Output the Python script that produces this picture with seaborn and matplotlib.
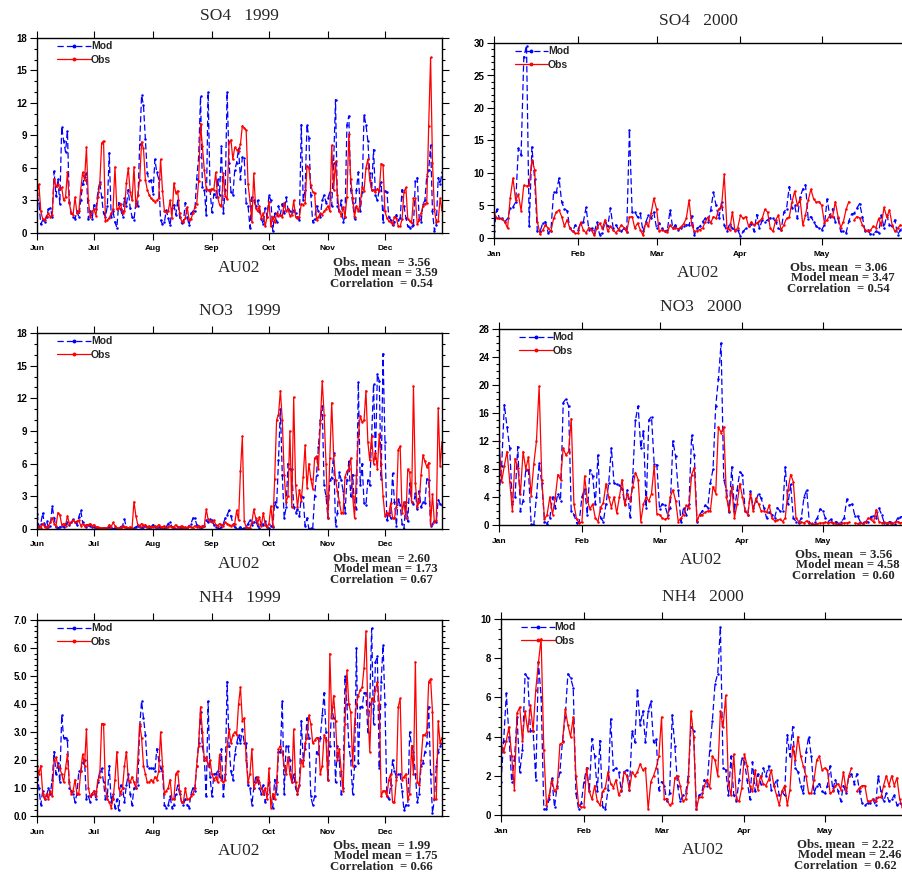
import numpy as np
import pandas as pd
import matplotlib
matplotlib.use("Agg")
import matplotlib.pyplot as plt
import matplotlib.dates as mdates
from matplotlib.lines import Line2D
from matplotlib.ticker import MultipleLocator, FormatStrFormatter, NullLocator
import seaborn as sns

nan = np.nan

# ---- daily values, 1999-06-01 .. 1999-12-31 ----
so4_1999_obs = [
    3.7, 4.5, 2.0, 1.3, 1.2, 1.6, 1.8, 1.5, 1.7, 5.0, 4.3, 4.5, 4.1, 4.2, 3.0, 3.3, 5.6, 2.8, 1.8, 1.7,
    3.3, 1.8, 2.0, 4.0, 5.6, 4.9, 7.9, 3.0, 1.5, 2.0,
    2.2, 1.6, 3.3, 4.5, 8.3, 8.5, 1.1, 1.2, 1.4, 1.8, 2.2, 6.1, 2.2, 2.3, 2.7, 1.8, 2.0, 4.6, 6.0, 3.8,
    3.0, 6.1, 2.5, 3.5, 4.9, 8.4, 7.8, 4.9, 4.0, 3.5, 3.2,
    3.0, 2.9, 3.0, 3.2, 6.8, 3.9, 2.0, 1.9, 2.0, 3.0, 1.4, 4.6, 3.7, 3.9, 1.8, 1.1, 1.0, 1.4, 2.4, 1.2,
    1.3, 1.8, 2.4, 2.7, 4.8, 10.1, 8.0, 5.8, 4.1, 4.0, 3.9,
    4.1, 4.0, 5.6, 3.3, 2.6, 2.5, 5.5, 3.4, 3.1, 8.4, 8.6, 6.8, 7.9, 7.7, 7.6, 8.2, 9.9, 9.7, 9.5, 4.5,
    3.0, 1.0, 5.5, 2.3, 2.0, 2.5, 1.4, 1.8, 0.6, 1.5,
    2.9, 0.6, 1.5, 1.0, 1.8, 1.6, 1.7, 1.5, 2.8, 2.0, 2.2, 1.6, 1.7, 3.0, 1.5, 1.4, 1.5, 2.7, 2.6, 2.8,
    6.2, 6.0, 4.4, 3.8, 3.7, 1.2, 1.5, 1.8, 1.7, 2.0, 2.2,
    2.5, 2.0, 8.1, 4.0, 6.6, 3.5, 2.0, 1.6, 2.4, 1.5, 3.3, 9.1, 5.0, 3.2, 1.5, 2.5, 2.0, 2.8, 4.2, 3.9,
    6.0, 6.8, 4.9, 4.0, 4.0, 3.8, 4.1, 3.9, 6.4, 6.3,
    2.0, 1.4, 1.1, 1.0, 0.8, 1.5, 1.4, 0.6, 0.6, 1.3, 3.8, 4.2, 1.3, 1.1, 0.9, 3.2, 3.2, 0.8, 1.2, 1.8,
    2.5, 2.7, 2.8, 9.9, 16.2, 6.5, 2.2, 1.0, 1.1, 3.2, 2.1,
]
so4_1999_mod = [
    3.5, 2.8, 0.8, 1.2, 1.0, 1.5, 2.2, 2.3, 1.5, 5.7, 3.4, 5.0, 2.7, 9.8, 8.5, 7.5, 9.4, 2.9, 1.8, 1.5,
    1.3, 2.0, 1.5, 3.0, 4.5, 5.2, 5.5, 1.3, 2.0, 1.3,
    2.6, 2.2, 3.8, 4.7, 3.3, 1.8, 1.5, 2.5, 7.4, 1.5, 2.0, 1.0, 0.5, 2.8, 2.2, 1.5, 3.2, 2.5, 4.0, 2.3,
    1.5, 1.2, 2.8, 2.5, 8.2, 12.7, 11.8, 8.7, 5.5, 4.8, 4.9,
    3.6, 6.8, 5.6, 5.0, 1.2, 0.8, 1.0, 2.1, 1.4, 0.7, 2.3, 2.6, 1.7, 3.0, 1.5, 0.9, 1.0, 2.8, 1.5, 0.7,
    1.8, 2.0, 2.0, 5.0, 7.0, 12.6, 4.2, 4.0, 1.7, 13.0, 4.0,
    1.9, 3.6, 3.3, 5.0, 3.5, 8.0, 1.8, 4.0, 13.0, 6.5, 3.8, 3.5, 5.8, 6.5, 7.8, 5.0, 7.0, 6.9, 2.8, 2.5,
    0.5, 3.3, 3.0, 2.5, 3.0, 2.0, 1.3, 0.8, 2.3, 1.5,
    3.5, 3.0, 0.2, 1.8, 1.0, 2.5, 1.7, 2.7, 1.8, 3.3, 2.2, 2.0, 1.9, 2.1, 1.8, 1.5, 1.2, 10.0, 3.0, 4.0,
    10.0, 8.8, 3.5, 1.0, 1.3, 2.5, 2.0, 1.5, 3.0, 3.5, 2.8,
    3.2, 3.8, 2.5, 6.5, 12.3, 2.5, 2.0, 3.0, 1.0, 1.5, 10.0, 10.8, 4.0, 2.8, 1.3, 4.0, 5.6, 2.0, 3.8, 10.9,
    10.0, 8.5, 5.5, 4.0, 7.7, 3.5, 3.0, 4.0, 4.7, 1.0,
    3.9, 3.8, 1.5, 1.2, 0.7, 1.0, 1.7, 1.2, 1.4, 4.0, 2.5, 1.4, 0.6, 0.5, 0.6, 0.7, 4.8, 5.1, 1.3, 1.0,
    2.7, 3.0, 5.3, 5.8, 8.1, 2.0, 0.2, 0.7, 5.1, 4.5, 5.6,
]
no3_1999_obs = [
    0.1, 0.3, 0.1, 0.5, 0.2, 0.1, 0.3, 0.6, 1.0, 0.5, 0.3, 1.5, 1.3, 0.4, 0.5, 0.3, 1.2, 0.5, 0.6, 0.8,
    0.6, 0.7, 0.8, 0.3, 0.5, 0.3, 0.4, 0.4, 0.5, 0.3,
    0.4, 0.2, 0.2, 0.1, 0.1, 0.1, 0.1, 0.1, 0.4, 0.2, 0.6, 0.3, 0.1, 0.1, 0.1, 0.3, 0.2, 0.2, 0.1, 0.2,
    0.1, 2.5, 1.2, 0.4, 0.3, 0.5, 0.3, 0.4, 0.2, 0.3, 0.2,
    0.2, 0.3, 0.2, 0.4, 0.2, 0.2, 0.3, 0.1, 0.2, 0.3, 0.2, 0.2, 0.4, 0.1, 0.2, 0.3, 0.1, 0.2, 0.1, 0.3,
    0.2, 0.1, 0.3, 0.2, 0.3, 0.2, 0.3, 0.3, 1.8, 0.9, 0.7,
    0.6, 0.8, 0.4, 0.3, 0.5, 0.4, 0.3, 0.6, 0.5, 0.4, 0.3, 0.4, 0.5, 1.7, 0.8, 5.3, 8.5, 0.7, 0.2, 0.1,
    0.1, 0.6, 1.8, 1.0, 0.5, 1.1, 0.3, 1.5, 0.4, 0.2,
    0.5, 2.1, 0.3, 4.6, 10.0, 10.5, 12.7, 10.0, 5.0, 2.5, 3.0, 9.0, 2.0, 12.1, 4.0, 2.0, 3.6, 2.6, 4.8, 7.7,
    3.8, 6.0, 4.6, 3.7, 6.5, 6.7, 5.5, 9.7, 13.6, 10.5, 6.0,
    1.0, 6.5, 11.6, 6.8, 4.5, 3.5, 2.5, 1.5, 1.5, 4.8, 5.3, 5.5, 6.5, 3.0, 1.0, 5.0, 8.5, 10.4, 9.8, 10.0,
    12.7, 8.0, 6.3, 8.5, 6.0, 7.0, 5.5, 8.7, 6.0, 3.0,
    1.2, 1.5, 1.3, 2.4, 1.0, 1.0, 2.0, 7.3, 7.6, 1.5, 2.5, 1.0, 5.5, 5.2, 2.5, 13.1, 4.2, 2.0, 2.5, 5.0,
    6.8, 6.2, 5.7, 6.1, 0.4, 3.2, 0.6, 0.8, 11.1, 5.8, 8.0,
]
no3_1999_mod = [
    1.4, 0.2, 0.5, 1.5, 0.3, 0.7, 0.2, 0.3, 2.1, 1.0, 0.2, 0.1, 0.2, 0.3, 0.2, 0.5, 0.6, 0.4, 0.6, 0.9,
    0.6, 0.4, 1.1, 1.7, 0.6, 0.3, 0.2, 0.4, 0.3, 0.2,
    0.2, 0.1, 0.0, 0.1, 0.0, 0.1, 0.0, 0.1, 0.2, 0.1, 0.0, 0.1, 0.0, 0.1, 0.2, 0.3, 0.9, 0.1, 0.0, 0.1,
    0.0, 0.1, 0.2, 0.3, 0.2, 0.1, 0.2, 0.3, 0.2, 0.1, 0.2,
    0.4, 0.2, 0.1, 0.2, 0.1, 0.0, 0.1, 0.2, 0.5, 0.6, 0.2, 0.1, 0.0, 0.2, 0.1, 0.1, 0.2, 0.0, 0.1, 0.3,
    0.5, 1.0, 1.0, 0.4, 0.2, 0.1, 0.2, 0.3, 0.8, 0.6, 0.9,
    0.8, 0.4, 0.2, 0.1, 0.0, 0.2, 0.5, 1.0, 1.3, 1.7, 1.2, 0.5, 0.2, 0.0, 0.1, 0.2, 0.0, 0.1, 0.2, 0.5,
    0.8, 0.4, 0.6, 0.8, 0.3, 0.1, 0.5, 0.4, 0.7, 0.2,
    0.1, 0.3, 0.2, 2.5, 2.0, 6.3, 11.0, 5.0, 1.0, 2.0, 6.0, 5.5, 5.5, 2.0, 1.5, 1.8, 1.2, 3.0, 2.9, 0.3,
    1.0, 0.0, 0.1, 0.0, 3.0, 5.0, 7.5, 10.0, 11.3, 4.0, 3.0,
    1.0, 4.5, 4.7, 7.0, 0.3, 1.5, 5.2, 4.5, 3.5, 1.5, 4.5, 6.2, 3.0, 5.0, 2.0, 1.8, 13.5, 4.0, 6.0, 2.4,
    2.2, 4.5, 4.0, 8.5, 13.3, 6.5, 14.2, 13.6, 4.6, 16.1,
    8.0, 0.8, 1.5, 1.0, 5.1, 2.5, 0.3, 2.8, 2.2, 0.5, 0.0, 2.5, 0.7, 4.2, 2.5, 2.3, 3.3, 1.8, 3.5, 2.0,
    2.5, 2.4, 4.6, 4.5, 0.3, 0.5, 0.7, 0.6, 2.7, 2.3, 2.2,
]
nh4_1999_obs = [
    1.8, 1.5, 1.8, 0.8, 0.6, 0.8, 0.6, 0.9, 0.7, 2.0, 2.1, 1.8, 1.7, 1.5, 1.2, 1.7, 2.2, 1.2, 0.8, 0.9,
    1.3, 0.8, 0.8, 1.6, 2.2, 1.8, 3.1, 1.0, 0.7, 0.8,
    0.9, 0.7, 1.3, 1.4, 3.3, 3.3, 1.0, 0.6, 0.5, 0.3, 0.6, 1.3, 2.3, 1.0, 0.8, 1.0, 1.8, 2.3, 1.3, 1.2,
    1.4, 1.2, 1.0, 2.0, 3.3, 2.8, 1.8, 1.5, 1.2, 1.2, 1.3,
    1.2, 1.4, 1.3, 1.6, 3.0, 1.8, 0.8, 0.9, 1.0, 1.3, 0.6, 0.6, 1.5, 1.6, 0.9, 0.5, 0.5, 1.0, 0.6, 0.6,
    0.7, 0.8, 1.0, 1.8, 2.5, 3.9, 3.0, 2.0, 2.1, 1.8, 2.0,
    1.5, 1.3, 1.4, 1.2, 2.2, 1.3, 1.2, 1.3, 2.5, 3.1, 2.6, 2.9, 3.0, 2.9, 4.0, 4.6, 3.4, 3.5, 2.0, 1.2,
    1.5, 2.4, 1.0, 1.2, 1.4, 1.2, 1.0, 0.8, 1.0, 0.6,
    1.7, 0.3, 0.8, 0.6, 1.2, 2.4, 2.5, 2.3, 1.8, 1.5, 2.1, 1.5, 1.2, 3.1, 1.2, 0.8, 1.1, 2.0, 1.8, 2.6,
    2.8, 3.6, 3.3, 2.6, 2.7, 2.8, 2.8, 1.5, 1.8, 2.9, 2.7,
    1.3, 5.8, 3.5, 4.3, 3.4, 2.0, 2.4, 1.6, 0.9, 3.3, 5.2, 4.0, 3.7, 1.8, 3.3, 4.0, 4.3, 4.5, 4.6, 5.3,
    6.6, 3.8, 2.3, 4.2, 4.1, 4.5, 4.8, 4.0, 0.7, 0.9,
    0.9, 0.7, 1.3, 1.5, 0.5, 0.5, 1.3, 3.9, 4.2, 1.3, 1.4, 1.5, 0.6, 0.8, 2.5, 1.5, 5.5, 1.2, 1.1, 2.0,
    2.9, 2.9, 3.0, 4.8, 4.9, 3.7, 0.6, 0.6, 3.4, 2.6, 2.8,
]
nh4_1999_mod = [
    1.8, 1.0, 0.4, 0.9, 0.6, 0.7, 1.0, 0.8, 1.3, 2.3, 1.5, 1.9, 1.2, 3.6, 2.8, 2.8, 2.7, 1.0, 0.9, 0.8,
    0.5, 0.8, 1.6, 1.6, 1.9, 2.0, 0.6, 0.7, 0.5, 0.8,
    0.9, 0.6, 1.2, 1.6, 1.7, 1.2, 0.6, 0.7, 1.8, 0.5, 0.8, 0.3, 0.6, 0.2, 1.1, 1.0, 0.5, 1.1, 1.5, 0.8,
    0.4, 1.0, 1.0, 1.1, 3.2, 4.1, 3.5, 2.9, 1.8, 1.7, 1.7,
    1.7, 1.6, 2.4, 2.0, 1.7, 1.6, 0.4, 0.3, 0.4, 0.7, 0.3, 0.4, 0.8, 1.1, 0.8, 0.5, 0.4, 0.6, 0.4, 0.3,
    0.8, 1.0, 0.9, 1.8, 2.6, 3.7, 2.5, 2.0, 0.7, 4.1, 1.4,
    0.7, 1.5, 1.5, 1.6, 1.4, 2.4, 0.7, 1.5, 4.8, 2.5, 1.6, 1.3, 2.2, 2.6, 2.9, 2.6, 3.1, 2.6, 2.6, 1.1,
    1.0, 0.4, 1.0, 1.4, 1.3, 1.0, 0.8, 1.1, 0.5, 0.8,
    1.2, 0.5, 0.3, 1.3, 0.8, 2.3, 2.3, 4.1, 0.8, 2.5, 2.5, 2.0, 1.2, 1.5, 1.0, 0.8, 1.1, 3.4, 2.0, 2.4,
    3.5, 2.8, 0.7, 0.4, 0.7, 2.3, 2.2, 2.8, 3.6, 4.4, 3.0,
    1.3, 2.5, 3.9, 3.5, 1.2, 2.5, 2.0, 0.8, 1.0, 5.0, 4.0, 2.5, 2.0, 0.8, 1.8, 6.0, 1.9, 3.9, 3.9, 4.4,
    4.4, 3.0, 4.0, 6.7, 3.3, 5.5, 5.7, 1.7, 4.8, 6.1,
    4.0, 0.7, 0.6, 1.1, 2.0, 1.6, 1.4, 1.5, 1.5, 0.9, 0.2, 0.4, 0.4, 3.0, 2.5, 2.3, 1.5, 0.5, 0.8, 1.8,
    1.9, 2.3, 2.6, 3.9, 1.5, 0.1, 0.6, 1.8, 2.3, 2.5, 2.6,
]

# ---- daily values, 2000-01-01 .. 2000-05-31 ----
so4_2000_obs = [
    4.0, 3.0, 3.0, 2.9, 2.5, 1.5, 6.2, 9.2, 5.8, 6.7, 4.2, 8.1, 8.0, 8.1, 12.0, 10.5, 2.5, 0.6, 1.2, 2.0,
    1.5, 1.0, 3.0, 4.0, 4.3, 3.3, 1.8, 2.8, 1.5, 1.0, 0.7,
    0.7, 2.4, 1.2, 0.8, 1.6, 1.2, 0.4, 1.5, 2.3, 1.5, 2.8, 1.0, 1.8, 1.2, 0.8, 1.3, 2.0, 1.6, 0.9, 3.2,
    3.3, 1.5, 2.3, 1.3, 0.4, 2.3, 1.8, 3.8, 6.1,
    4.5, 1.0, 1.3, 1.0, 0.9, 2.0, 1.5, 1.6, 1.4, 1.7, 2.2, 3.0, 5.8, 2.0, 1.0, 1.1, 1.3, 1.5, 2.5, 3.2,
    2.3, 3.3, 3.0, 4.5, 4.8, 9.8, 1.5, 1.2, 4.0, 1.0, 1.6,
    3.5, 3.0, 3.3, 1.8, 2.5, 2.0, 2.3, 2.6, 3.0, 4.4, 4.0, 1.5, 1.0, 2.8, 3.5, 1.2, 2.0, 3.0, 3.2, 5.5,
    7.2, 5.0, 6.0, 2.0, 3.5, 5.8, 7.5, 6.0, 5.5, 5.6,
    5.0, 2.3, 2.8, 3.5, 3.2, 5.6, 3.3, 1.6, 2.5, 4.4, 5.6, nan, 2.8, 3.3, 3.1, 2.0, 1.3, 1.0, 1.2, 1.8,
    1.6, 3.0, 2.0, 4.7, 3.2, 4.3, 2.0, 1.0, 1.5, 2.0, 1.8,
]
so4_2000_mod = [
    1.0, 4.4, 3.0, 3.0, 2.5, 3.0, 4.6, 4.8, 5.5, 13.8, 12.8, 27.8, 29.6, 1.8, 14.0, 9.0, 1.0, 1.0, 2.3, 2.5,
    0.8, 1.1, 7.0, 7.0, 9.2, 5.5, 4.5, 4.2, 1.5, 1.0, 2.0,
    1.3, 2.3, 2.5, 4.7, 1.3, 1.5, 0.8, 2.4, 0.5, 0.8, 2.5, 1.8, 4.6, 1.5, 2.0, 1.3, 1.0, 1.5, 0.9, 16.6,
    4.0, 4.0, 3.2, 3.8, 1.0, 2.4, 3.5, 3.0, 4.0,
    1.5, 2.3, 1.5, 1.0, 1.2, 4.3, 1.5, 2.0, 1.2, 1.6, 1.8, 2.0, 2.0, 3.4, 0.5, 1.5, 1.8, 2.5, 3.0, 2.5,
    4.3, 7.0, 5.0, 3.0, 5.5, 2.0, 1.0, 2.2, 1.5, 1.2, 1.2,
    0.3, 1.0, 1.5, 1.8, 2.2, 1.0, 3.6, 1.5, 2.7, 2.5, 2.8, 3.1, 3.0, 2.5, 1.5, 1.2, 4.0, 4.5, 7.9, 4.6,
    5.0, 3.0, 6.3, 7.5, 8.2, 2.9, 3.3, 2.5, 1.8, 1.5,
    1.3, 2.0, 6.0, 3.3, 4.5, 2.5, 3.0, 1.0, 1.0, 0.8, 2.6, 3.7, 3.8, 4.6, 5.3, 3.3, 1.0, 1.2, 0.6, 0.6,
    1.0, 0.8, 3.5, 1.6, 3.5, 2.0, 1.8, 2.8, 0.5, 1.2, 1.8,
]
no3_2000_obs = [
    12.0, 6.2, 8.5, 10.5, 6.2, 2.0, 9.5, 8.2, 4.5, 10.5, 8.0, 9.7, 4.2, 8.7, 12.0, 19.8, 6.5, 0.8, 1.5, 4.0,
    1.5, 3.8, 7.2, 6.5, 11.0, 10.0, 10.5, 15.2, 3.0, 0.8, 0.3,
    0.4, 7.0, 3.5, 2.3, 3.0, 1.0, 0.5, 2.5, 3.2, 5.9, 4.0, 2.5, 4.0, 1.7, 4.0, 6.5, 2.8, 4.5, 3.5, 5.5,
    7.5, 6.5, 0.5, 3.0, 4.0, 3.4, 4.5, 8.5, 1.6,
    1.5, 1.0, 0.8, 1.0, 4.0, 5.0, 3.5, 0.5, 1.0, 1.5, 2.8, 2.5, 7.2, 8.2, 0.6, 1.5, 1.5, 1.8, 2.0, 2.0,
    5.5, 4.5, 14.0, 13.2, 14.0, 4.0, 2.0, 5.5, 1.0, 3.0, 5.9,
    4.0, 2.0, 1.5, 4.5, 2.0, 3.8, 3.0, 2.0, 2.0, 1.8, 2.8, 1.0, 0.6, 0.7, 0.8, 0.5, 1.0, 5.0, 7.2, 6.2,
    1.0, 0.5, 0.4, 0.3, 0.6, 0.3, 0.2, 0.1, 0.2, 0.3,
    0.3, 0.4, 0.3, 0.4, 0.3, 0.2, 0.1, 0.2, 0.3, 0.3, 0.4, nan, 0.3, 0.2, 0.3, 0.2, 0.4, 1.0, 0.8, 0.4,
    2.2, 0.5, 0.3, 0.4, 0.3, 0.3, 0.2, 0.4, 0.5, 0.3, 0.4,
]
no3_2000_mod = [
    4.3, 8.5, 17.2, 14.0, 11.0, 3.0, 4.0, 11.2, 2.0, 3.5, 7.9, 7.9, 0.2, 0.0, 4.0, 8.8, 6.0, 0.5, 0.2, 1.0,
    4.0, 2.5, 4.5, 3.5, 17.5, 18.0, 17.0, 2.0, 1.5, 0.3, 0.5,
    4.0, 5.2, 1.5, 7.9, 7.0, 3.0, 10.0, 1.0, 0.5, 3.0, 6.0, 11.0, 6.0, 5.8, 5.7, 5.2, 3.0, 5.0, 1.2, 7.0,
    15.0, 17.0, 11.0, 13.5, 2.5, 15.0, 15.5, 8.7, 8.6,
    2.3, 3.0, 2.8, 1.5, 2.5, 12.0, 9.8, 5.0, 0.5, 2.5, 1.5, 3.0, 12.8, 10.0, 0.5, 1.5, 2.0, 2.8, 2.5, 6.0,
    8.0, 17.0, 20.8, 26.0, 6.5, 5.0, 1.8, 8.3, 2.0, 5.0, 7.6,
    7.2, 2.0, 1.5, 4.8, 2.5, 3.5, 4.5, 3.8, 2.5, 1.0, 1.8, 1.5, 1.0, 2.5, 2.0, 2.0, 8.3, 3.0, 5.8, 1.0,
    0.5, 0.3, 1.0, 4.0, 5.0, 0.3, 0.2, 0.5, 1.0, 2.3,
    2.0, 1.0, 0.5, 0.8, 0.3, 0.5, 0.2, 0.5, 1.0, 3.7, 2.8, 3.0, 1.3, 1.3, 0.5, 0.3, 0.5, 0.4, 1.2, 1.3,
    1.0, 2.4, 1.5, 0.3, 0.2, 0.5, 0.3, 0.2, 1.0, 1.2, 1.2,
]
nh4_2000_obs = [
    3.7, 3.2, 3.8, 4.5, 3.0, 1.3, 5.2, 5.5, 3.8, 5.3, 4.3, 5.6, 4.3, 6.4, 7.8, 9.0, 3.3, 0.5, 1.0, 1.8,
    1.2, 1.4, 3.6, 3.7, 5.4, 4.6, 4.0, 5.0, 2.0, 0.5, 0.4,
    0.4, 2.4, 1.2, 0.8, 1.5, 0.7, 0.5, 1.2, 1.4, 2.2, 1.6, 1.4, 1.8, 1.0, 1.3, 2.2, 2.0, 1.3, 2.2, 2.0,
    2.2, 2.6, 2.3, 2.4, 0.3, 1.7, 2.0, 2.4, 3.0,
    5.0, 0.8, 0.8, 0.5, 0.6, 1.9, 2.0, 1.5, 0.7, 0.8, 1.7, 5.3, 4.0, 0.3, 0.9, 0.9, 1.5, 1.8, 1.4, 3.0,
    2.8, 2.0, 5.3, 4.5, 6.1, 1.6, 1.0, 3.1, 0.8, 0.7, 1.4,
    3.1, 2.5, 1.5, 1.2, 2.3, 1.3, 2.0, 1.6, 1.5, 1.8, 2.3, 1.5, 1.0, 0.5, 1.2, 1.5, 0.5, 1.3, 3.5, 2.8,
    4.0, 3.0, 2.5, 2.0, 1.1, 1.1, 1.8, 2.8, 3.0, 2.3,
    2.4, 2.3, 1.1, 1.2, 1.5, 1.6, 1.3, 2.2, 1.2, 2.0, 2.4, nan, 1.2, 1.4, 1.5, 1.5, 0.7, 0.7, 0.8, 0.7,
    0.9, 0.9, 1.5, 2.0, 1.5, 2.0, 1.5, 1.9, 0.8, 0.4, 0.6,
]
nh4_2000_mod = [
    1.7, 3.8, 6.2, 4.0, 1.7, 2.8, 5.0, 2.2, 3.3, 7.2, 7.0, 4.3, 4.3, 1.8, 7.8, 6.0, 0.3, 0.3, 0.8, 1.9,
    0.4, 1.5, 2.2, 3.8, 5.0, 7.2, 7.0, 6.5, 1.1, 0.3, 0.6,
    1.7, 2.4, 1.2, 3.9, 3.0, 1.2, 3.8, 0.4, 0.3, 1.3, 4.9, 2.3, 2.4, 2.2, 1.2, 2.2, 2.3, 1.3, 4.3, 3.7,
    6.4, 4.6, 5.3, 3.7, 5.3, 5.8, 3.7, 3.9, 1.3,
    1.7, 1.5, 0.7, 1.1, 5.1, 3.5, 1.5, 0.7, 1.0, 1.1, 2.0, 4.5, 4.3, 0.3, 1.0, 1.1, 1.8, 1.5, 3.3, 4.8,
    6.7, 7.2, 9.6, 2.4, 2.3, 1.0, 3.0, 1.0, 0.7, 1.8, 2.9,
    2.7, 1.8, 0.8, 2.7, 1.2, 2.1, 1.6, 2.4, 2.0, 2.5, 1.3, 1.5, 1.8, 1.0, 1.2, 1.0, 4.1, 3.0, 4.5, 2.4,
    2.2, 1.5, 1.1, 3.2, 4.0, 3.0, 1.1, 1.5, 1.6, 1.2,
    1.1, 1.5, 2.5, 1.3, 1.8, 1.2, 0.7, 1.5, 1.1, 2.0, 2.1, 1.6, 2.1, 1.2, 0.6, 0.5, 0.6, 0.6, 0.8, 0.5,
    2.0, 1.2, 0.7, 1.1, 0.7, 0.8, 1.0, 0.5, 0.6, 0.5, 0.7,
]

panel_titles = ["SO4   1999", "SO4   2000", "NO3   1999", "NO3   2000", "NH4   1999", "NH4   2000"]
obs_means = ["3.56", "3.06", "2.60", "3.56", "1.99", "2.22"]
model_means = ["3.59", "3.47", "1.73", "4.58", "1.75", "2.46"]
correlations = ["0.54", "0.54", "0.67", "0.60", "0.66", "0.62"]

sns.set_style("ticks")
plt.rcParams["font.family"] = ["Liberation Sans", "DejaVu Sans"]
plt.rcParams["font.weight"] = "bold"
plt.rcParams["axes.edgecolor"] = "black"
plt.rcParams["xtick.color"] = "black"
plt.rcParams["ytick.color"] = "black"

W, H = 902, 872
fig = plt.figure(figsize=(W / 100, H / 100), dpi=100)
fig.patch.set_facecolor("white")

MOD_COLOR = "#0000ff"
OBS_COLOR = "#ff0000"
MOD_LS = (0, (5, 2.5))


def series_frame(start, vals):
    df = pd.DataFrame({"date": pd.date_range(start, periods=len(vals), freq="D"),
                       "val": np.asarray(vals, dtype=float)})
    df["seg"] = df["val"].isna().cumsum()
    return df.dropna()


def draw_panel(box, start, end, mod, obs, idx, ymax, major, minor, fmt):
    left, top, right, bottom = box
    ax = fig.add_axes([left / W, 1 - bottom / H, (right - left) / W, (bottom - top) / H])

    sns.lineplot(data=series_frame(start, mod), x="date", y="val", units="seg", estimator=None,
                 color=MOD_COLOR, linestyle=MOD_LS, linewidth=0.9, marker="o", markersize=1.8,
                 markeredgewidth=0, ax=ax, legend=False)
    sns.lineplot(data=series_frame(start, obs), x="date", y="val", units="seg", estimator=None,
                 color=OBS_COLOR, linewidth=0.9, marker="o", markersize=1.8,
                 markeredgewidth=0, ax=ax, legend=False)

    ax.set_xlim(pd.Timestamp(start), pd.Timestamp(end))
    ax.set_ylim(0, ymax)
    ax.set_xlabel("")
    ax.set_ylabel("")
    ax.xaxis.set_major_locator(mdates.MonthLocator())
    ax.xaxis.set_major_formatter(mdates.DateFormatter("%b"))
    ax.xaxis.set_minor_locator(NullLocator())
    ax.yaxis.set_major_locator(MultipleLocator(major))
    ax.yaxis.set_minor_locator(MultipleLocator(minor))
    ax.yaxis.set_major_formatter(FormatStrFormatter(fmt))
    ax.tick_params(which="both", direction="out", top=True, right=True,
                   labeltop=False, labelright=False, width=0.8)
    ax.tick_params(which="major", length=5)
    ax.tick_params(which="minor", length=2.5)
    ax.tick_params(axis="y", labelsize=7, pad=2)
    ax.tick_params(axis="x", labelsize=6, pad=4)
    for sp in ax.spines.values():
        sp.set_visible(True)
        sp.set_linewidth(1.0)

    handles = [
        Line2D([], [], color=MOD_COLOR, linestyle=MOD_LS, linewidth=0.9, marker="o", markersize=1.8),
        Line2D([], [], color=OBS_COLOR, linewidth=0.9, marker="o", markersize=1.8),
    ]
    ax.legend(handles, ["Mod", "Obs"], loc="upper left", bbox_to_anchor=(0.035, 1.015),
              frameon=False, handlelength=3.2, handletextpad=0.0, labelspacing=0.35,
              borderaxespad=0.2, prop={"weight": "bold", "size": 7.5})

    cx = (left + right) / 2
    fig.text(cx / W, 1 - (top - 22) / H, panel_titles[idx], ha="center", va="center",
             family="Liberation Serif", fontweight="normal", fontsize=12.5)
    fig.text(cx / W, 1 - (bottom + 35) / H, "AU02", ha="center", va="center",
             family="Liberation Serif", fontweight="normal", fontsize=12.5)
    lines = [(296, "Obs. mean  = " + obs_means[idx]),
             (297, "Model mean = " + model_means[idx]),
             (293, "Correlation  = " + correlations[idx])]
    for k, (dx, txt) in enumerate(lines):
        fig.text((left + dx) / W, 1 - (bottom + 30 + 10.3 * k) / H, txt, ha="left", va="center",
                 family="Liberation Serif", fontweight="bold", fontsize=9.2)
    return ax


draw_panel((37, 38, 442, 233), "1999-06-01", "1999-12-31", so4_1999_mod, so4_1999_obs, 0, 18, 3, 1, "%d")
draw_panel((494, 43, 903, 238), "2000-01-01", "2000-05-31", so4_2000_mod, so4_2000_obs, 1, 30, 5, 1, "%d")
draw_panel((37, 333, 442, 529), "1999-06-01", "1999-12-31", no3_1999_mod, no3_1999_obs, 2, 18, 3, 1, "%d")
draw_panel((499, 329, 903, 525), "2000-01-01", "2000-05-31", no3_2000_mod, no3_2000_obs, 3, 28, 4, 1, "%d")
draw_panel((37, 620, 442, 816), "1999-06-01", "1999-12-31", nh4_1999_mod, nh4_1999_obs, 4, 7, 1, 0.2, "%.1f")
draw_panel((501, 619, 905, 815), "2000-01-01", "2000-05-31", nh4_2000_mod, nh4_2000_obs, 5, 10, 2, 0.5, "%d")

fig.savefig("out.png", dpi=100, facecolor="white")
